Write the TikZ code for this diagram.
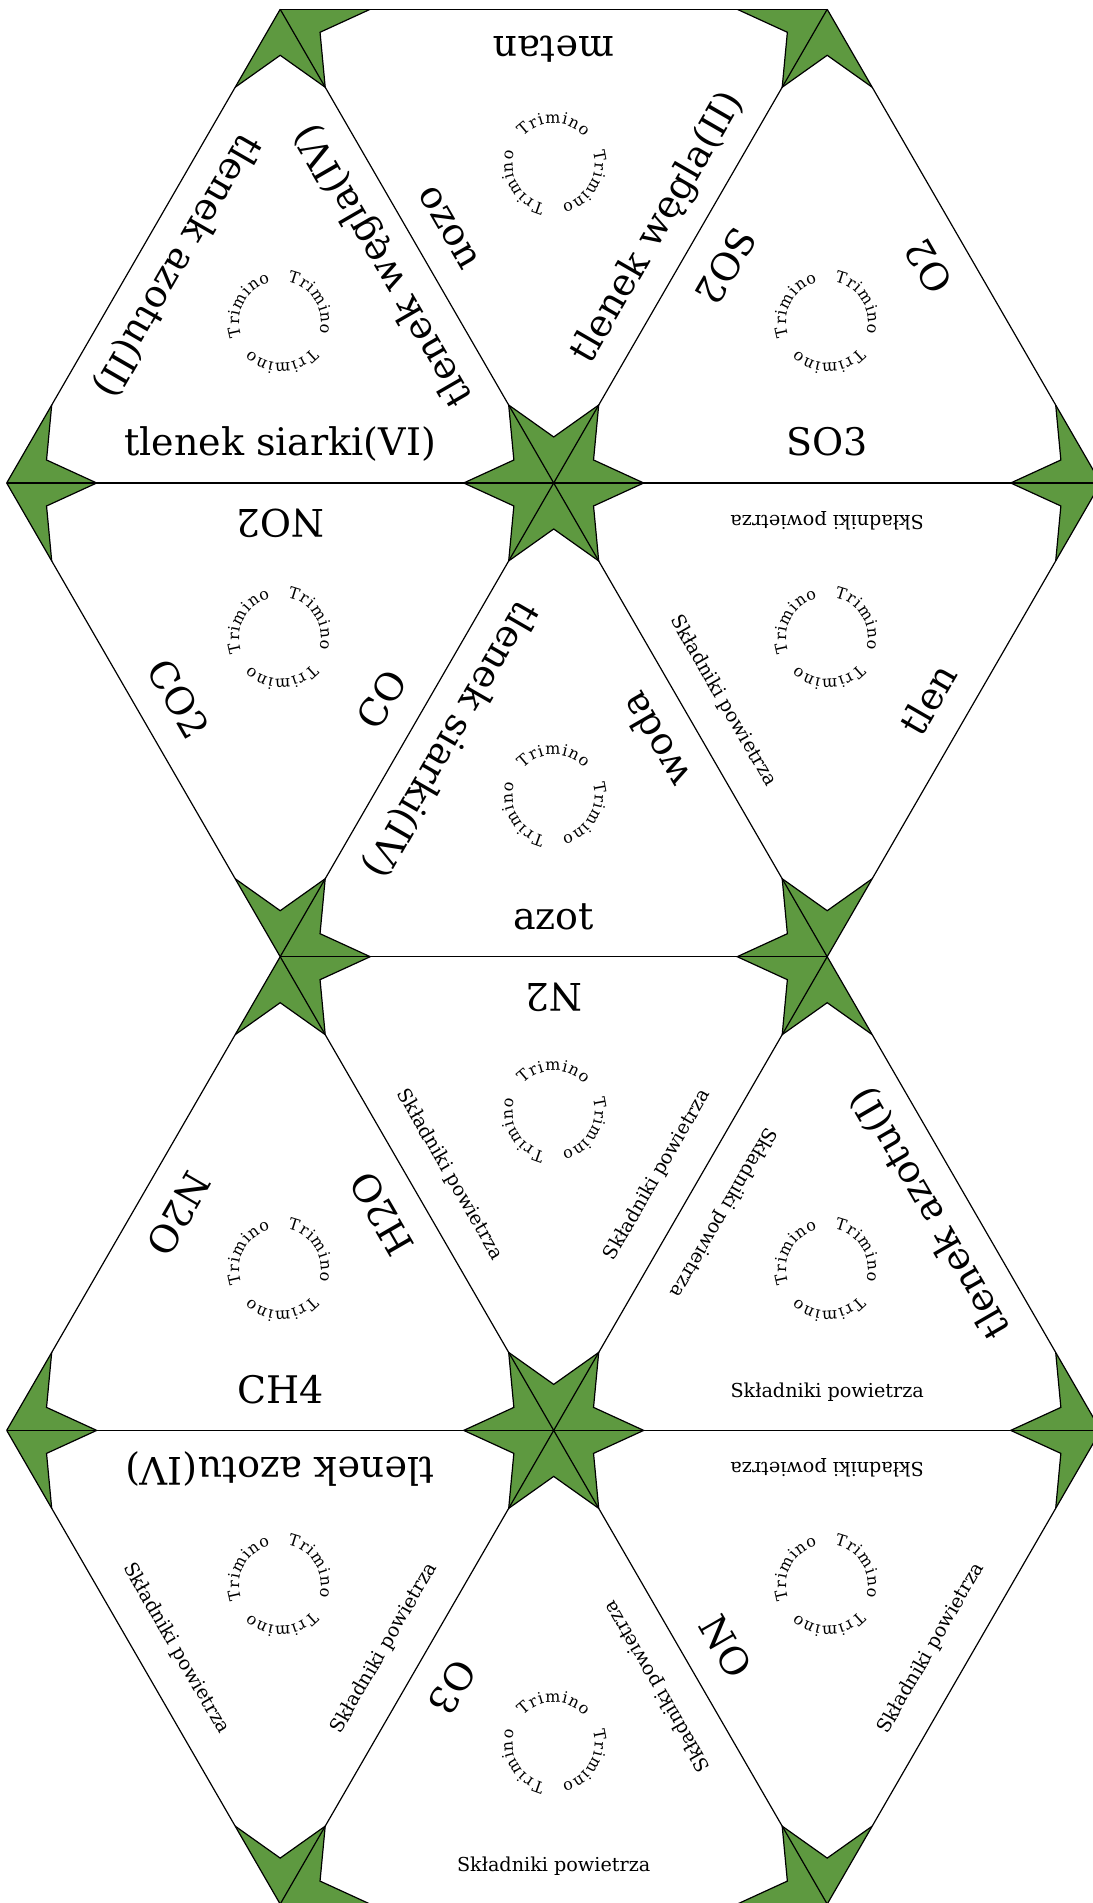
\documentclass[tikz,border=0pt]{standalone}
\usepackage{fontspec}
\setmainfont{DejaVu Serif}
\usetikzlibrary{calc,decorations.text}
\definecolor{stargreen}{RGB}{94,153,64}
\newcommand{\trimfont}{\fontsize{8}{9.5}\selectfont}
\begin{document}
\begin{tikzpicture}[x=0.5pt,y=0.5pt,line width=0.6pt,
	gaslabel/.style={font=\fontsize{19}{23}\selectfont,anchor=base,inner sep=0pt},
	airlabel/.style={font=\fontsize{9.6}{11.5}\selectfont,anchor=base,inner sep=0pt},
	starfill/.style={fill=stargreen,draw=black},
	logo/.style={decorate,decoration={text along path,text align=fit to path,text={|\trimfont|Trimino}}}]
	\useasboundingbox (0,0) rectangle (1093,1903);
	\foreach \i/\j in {1/0,3/0,0/1,2/1,4/1,1/2,3/2,0/3,2/3,4/3,1/4,3/4}
		\coordinate (v\i\j) at ({6.7+273.5*\i},{1893.7-473.7*\j});
	\begin{scope}
		\clip (v10) -- (v30) -- (v41) -- (v32) -- (v43) -- (v34) -- (v14) -- (v03) -- (v12) -- (v01) -- cycle;
		\foreach \v in {v10,v30,v01,v21,v41,v12,v32,v03,v23,v43,v14,v34}
			\filldraw[starfill] (\v) +(0:90) -- +(30:46) -- +(60:90) -- +(90:46) -- +(120:90) -- +(150:46) -- +(180:90) -- +(210:46) -- +(240:90) -- +(270:46) -- +(300:90) -- +(330:46) -- cycle;
	\end{scope}
	\draw (v10) -- (v30) (v01) -- (v41) (v12) -- (v32) (v03) -- (v43) (v14) -- (v34);
	\draw (v10) -- (v43) (v01) -- (v34) (v30) -- (v41) (v03) -- (v14);
	\draw (v10) -- (v01) (v30) -- (v03) (v41) -- (v14) (v43) -- (v34);
	\foreach \va/\vb/\lbl in {v10/v01/{tlenek azotu(II)},v01/v21/{tlenek siarki(VI)},v21/v10/{tlenek węgla(IV)},
		v10/v21/ozon,v21/v30/{tlenek węgla(II)},v30/v10/metan,v30/v21/SO2,v21/v41/SO3,v41/v30/O2,
		v01/v12/CO2,v12/v21/CO,v21/v01/NO2,v21/v12/{tlenek siarki(IV)},v12/v32/azot,v32/v21/woda,
		v32/v41/tlen,v12/v03/N2O,v03/v23/CH4,v23/v12/H2O,v32/v12/N2,v43/v32/{tlenek azotu(I)},
		v23/v03/{tlenek azotu(IV)},v23/v14/O3,v23/v34/NO}
		\path let \p1=($(\vb)-(\va)$), \n1={atan2(\y1,\x1)} in
			node[gaslabel,rotate=\n1] (n\va\vb) at ($(\va)!.5!(\vb)!13.5pt!90:(\vb)$) {\lbl};
	\foreach \va/\vb in {v21/v32,v41/v21,v12/v23,v23/v32,v32/v23,v23/v43,v03/v14,v14/v23,v14/v34,v34/v23,v34/v43,v43/v23}
		\path let \p1=($(\vb)-(\va)$), \n1={atan2(\y1,\x1)} in
			node[airlabel,rotate=\n1] (n\va\vb) at ($(\va)!.5!(\vb)!16.25pt!90:(\vb)$) {Składniki powietrza};
	\foreach \n/\v/\s in {1/v10/-1,3/v30/-1,4/v12/1,6/v32/1,7/v12/-1,9/v32/-1,10/v14/1,12/v34/1}{
		\coordinate (c\n) at ($(\v)+(0,{315.8*\s+3})$);
		\foreach \a in {152,32,-88}
			\path[logo] ($(c\n)+({\a+48}:41)$) arc[start angle=\a+48,end angle=\a-48,radius=41];
	}
	\foreach \n/\v/\s in {2/v21/1,5/v21/-1,8/v23/1,11/v23/-1}{
		\coordinate (c\n) at ($(\v)+(0,{315.8*\s+3})$);
		\foreach \a in {90,210,330}
			\path[logo] ($(c\n)+({\a+48}:41)$) arc[start angle=\a+48,end angle=\a-48,radius=41];
	}
\end{tikzpicture}
\end{document}
